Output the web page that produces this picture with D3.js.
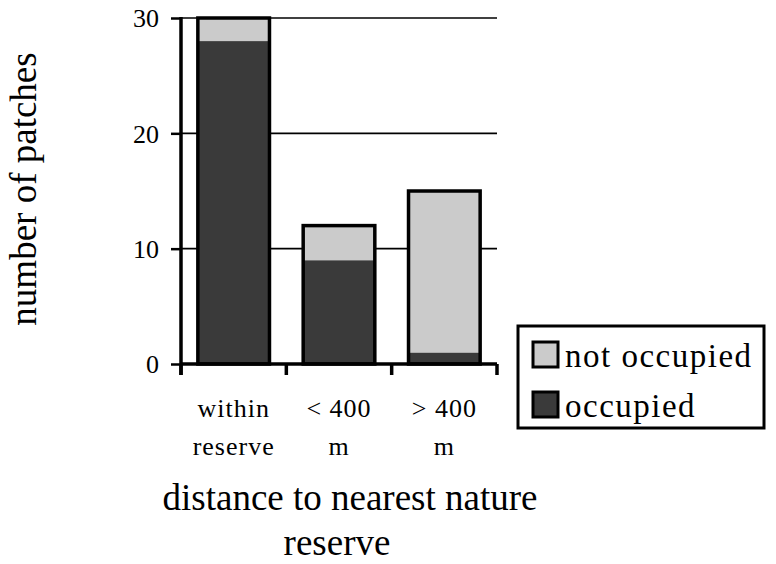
<!DOCTYPE html>
<html>
<head>
<meta charset="utf-8">
<script src="https://cdn.jsdelivr.net/npm/d3@7"></script>
<style>
  body { margin: 0; background: #fff; }
  svg text { font-family: "Liberation Serif", "Times New Roman", serif; fill: #000; }
</style>
</head>
<body>
<svg id="chart" width="776" height="564"></svg>
<script>
const categories = ["within reserve", "< 400 m", "> 400 m"];
const categoryLines = [["within", "reserve"], ["< 400", "m"], ["> 400", "m"]];
const occupied = [28, 9, 1];
const notOccupied = [2, 3, 14];
const yTicks = [0, 10, 20, 30];
const seriesNames = ["occupied", "not occupied"];

const data = categories.map((c, i) => ({
  category: c,
  occupied: occupied[i],
  "not occupied": notOccupied[i],
}));

const width = 776;
const height = 564;
const margin = { top: 18, right: 279, bottom: 200, left: 181 };

const svg = d3.select("#chart");

const x = d3
  .scaleBand()
  .domain(categories)
  .range([margin.left, width - margin.right])
  .paddingInner(0.32)
  .paddingOuter(0.16);

const y = d3
  .scaleLinear()
  .domain([0, 30])
  .range([height - margin.bottom, margin.top]);

const color = d3
  .scaleOrdinal()
  .domain(seriesNames)
  .range(["#3a3a3a", "#cbcbcb"]);

const layers = d3.stack().keys(seriesNames)(data);

// gridlines
svg
  .append("g")
  .selectAll("line")
  .data(yTicks.filter((t) => t > 0))
  .join("line")
  .attr("x1", margin.left)
  .attr("x2", width - margin.right)
  .attr("y1", (d) => y(d))
  .attr("y2", (d) => y(d))
  .attr("stroke", "#000")
  .attr("stroke-width", 1.6);

// stacked segments
svg
  .append("g")
  .selectAll("g")
  .data(layers)
  .join("g")
  .attr("fill", (d) => color(d.key))
  .selectAll("rect")
  .data((d) => d)
  .join("rect")
  .attr("x", (d) => x(d.data.category))
  .attr("y", (d) => y(d[1]))
  .attr("width", x.bandwidth())
  .attr("height", (d) => y(d[0]) - y(d[1]));

// bar outlines
svg
  .append("g")
  .selectAll("rect")
  .data(data)
  .join("rect")
  .attr("x", (d) => x(d.category))
  .attr("y", (d) => y(d.occupied + d["not occupied"]))
  .attr("width", x.bandwidth())
  .attr("height", (d) => y(0) - y(d.occupied + d["not occupied"]))
  .attr("fill", "none")
  .attr("stroke", "#000")
  .attr("stroke-width", 3.5);

// Y axis
const yAxis = svg
  .append("g")
  .attr("transform", `translate(${margin.left},0)`)
  .call(d3.axisLeft(y).tickValues(yTicks).tickSize(10).tickPadding(12));
yAxis.select(".domain").remove();
yAxis.selectAll(".tick line").attr("stroke", "#000").attr("stroke-width", 2.5);
yAxis
  .selectAll(".tick text")
  .style("font-size", "26px")
  .attr("dy", "0.34em");
yAxis
  .append("line")
  .attr("y1", y(30) - 1)
  .attr("y2", y(0) + 11)
  .attr("stroke", "#000")
  .attr("stroke-width", 3.5);

// X axis with ticks at band edges
const edges = d3.range(categories.length + 1).map((i) => margin.left + i * x.step());
const xAxis = svg.append("g");
xAxis
  .append("line")
  .attr("x1", margin.left)
  .attr("x2", width - margin.right)
  .attr("y1", y(0))
  .attr("y2", y(0))
  .attr("stroke", "#000")
  .attr("stroke-width", 3.5);
xAxis
  .selectAll("line.tick")
  .data(edges)
  .join("line")
  .attr("class", "tick")
  .attr("x1", (d) => d)
  .attr("x2", (d) => d)
  .attr("y1", y(0))
  .attr("y2", y(0) + 11)
  .attr("stroke", "#000")
  .attr("stroke-width", 3.5);

// category labels
const catText = svg
  .append("g")
  .selectAll("text")
  .data(categories)
  .join("text")
  .attr("text-anchor", "middle")
  .style("font-size", "26px")
  .style("letter-spacing", "1px");
catText
  .selectAll("tspan")
  .data((d, i) => categoryLines[i].map((t) => ({ t, c: d })))
  .join("tspan")
  .attr("x", (d) => x(d.c) + x.bandwidth() / 2)
  .attr("y", (d, j) => 417 + j * 38)
  .text((d) => d.t);

// X axis title
svg
  .append("text")
  .attr("text-anchor", "middle")
  .attr("x", 350)
  .attr("y", 510)
  .style("font-size", "37px")
  .text("distance to nearest nature");
svg
  .append("text")
  .attr("text-anchor", "middle")
  .attr("x", 337)
  .attr("y", 555)
  .style("font-size", "37px")
  .text("reserve");

// Y axis title
svg
  .append("text")
  .attr("text-anchor", "middle")
  .attr("transform", "rotate(-90)")
  .attr("x", -189)
  .attr("y", 36)
  .style("font-size", "37px")
  .text("number of patches");

// legend
const legend = svg.append("g").attr("transform", "translate(518,326)");
legend
  .append("rect")
  .attr("width", 246)
  .attr("height", 102)
  .attr("fill", "#fff")
  .attr("stroke", "#000")
  .attr("stroke-width", 3);
const items = legend
  .selectAll("g")
  .data(["not occupied", "occupied"])
  .join("g")
  .attr("transform", (d, i) => `translate(15,${16 + i * 50})`);
items
  .append("rect")
  .attr("width", 25)
  .attr("height", 25)
  .attr("fill", (d) => color(d))
  .attr("stroke", "#000")
  .attr("stroke-width", 3);
items
  .append("text")
  .attr("x", 32)
  .attr("y", 25)
  .style("font-size", "33px")
  .style("letter-spacing", "1.5px")
  .text((d) => d);
</script>
</body>
</html>
